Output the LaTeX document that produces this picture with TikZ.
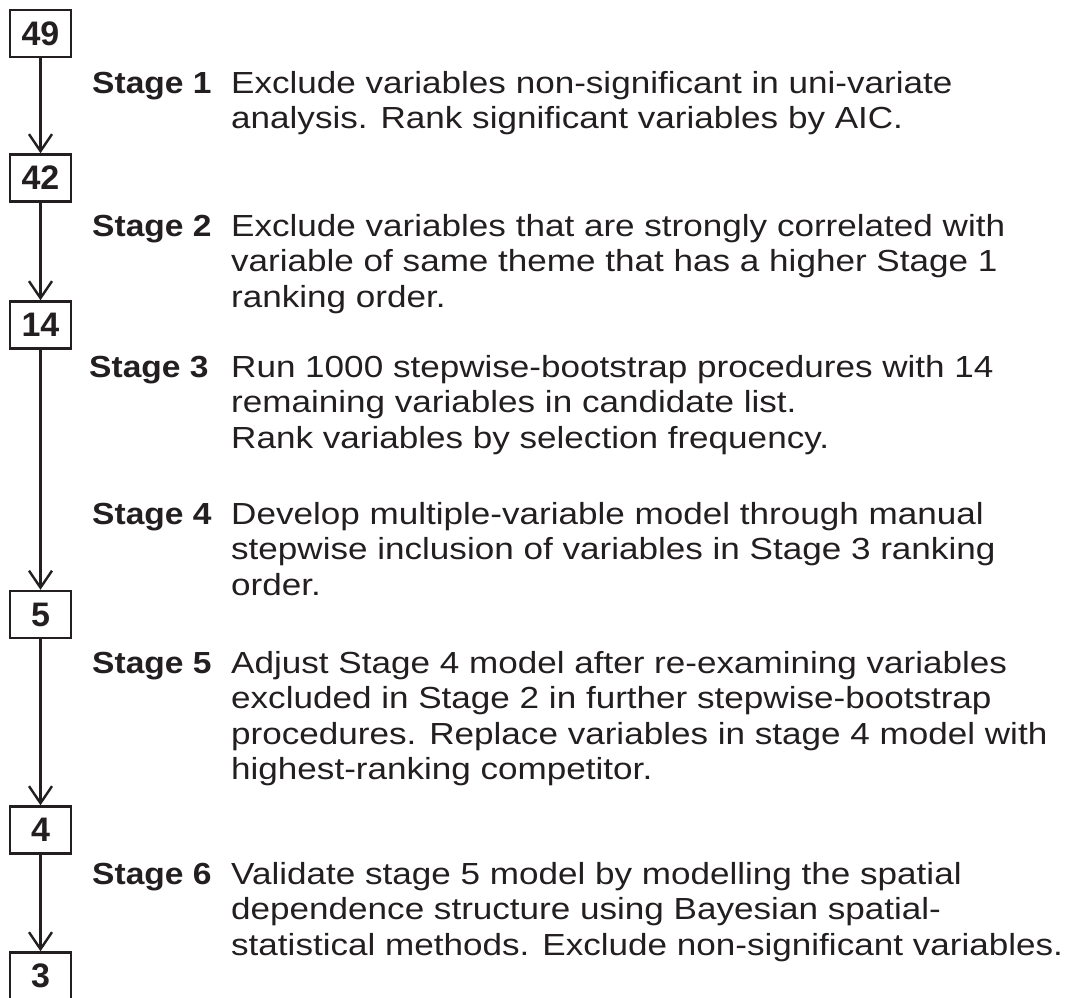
\documentclass[tikz,border=0pt]{standalone}
\usepackage{fontspec}
\setmainfont{Liberation Sans}[FakeStretch=1.15,BoldFeatures={FakeStretch=1.1}]
\newfontfamily\boxfont{Liberation Sans}
\usetikzlibrary{arrows.meta,positioning}
\definecolor{flInk}{RGB}{35,31,32}
\newcommand{\stagelines}[1]{\begin{tabular}[t]{@{}l@{}}#1\end{tabular}}

\begin{document}
\begin{tikzpicture}[x=1pt,y=-1pt,
  numbox/.style={draw=flInk,line width=2.4pt,minimum width=61pt,minimum height=47pt,
    inner sep=0pt,text=flInk,font=\boxfont\fontsize{34}{34}\selectfont\bfseries},
  stagelabel/.style={anchor=base west,inner sep=0pt,text=flInk,
    font=\fontsize{30.5}{35.5}\selectfont\bfseries},
  stagetext/.style={anchor=base west,inner sep=0pt,text=flInk,
    font=\fontsize{30.5}{35.5}\selectfont},
  flow/.style={draw=flInk,line width=2.4pt,-{Straight Barb[length=17pt,width=23pt]}}]
  \useasboundingbox (0,0) rectangle (1068,998);
  \node[numbox] (n49) at (40.5,33.5) {49};
  \node[numbox] (n42) at (40.5,178) {42};
  \node[numbox] (n14) at (40.5,325) {14};
  \node[numbox] (n5) at (40.5,614.5) {5};
  \node[numbox] (n4) at (40.5,830) {4};
  \node[numbox] (n3) at (40.5,976) {3};
  \draw[flow] (n49) -- (n42);
  \draw[flow] (n42) -- (n14);
  \draw[flow] (n14) -- (n5);
  \draw[flow] (n5) -- (n4);
  \draw[flow] (n4) -- (n3);
  \node[stagelabel] (s1) at (92,93) {Stage 1};
  \node[stagetext] (t1) at (231,93) {\stagelines{Exclude variables non-significant in uni-variate\\analysis. Rank significant variables by AIC.}};
  \node[stagelabel] (s2) at (92,236) {Stage 2};
  \node[stagetext] (t2) at (231,236) {\stagelines{Exclude variables that are strongly correlated with\\variable of same theme that has a higher Stage 1\\ranking order.}};
  \node[stagelabel] (s3) at (89,377) {Stage 3};
  \node[stagetext] (t3) at (231,377) {\stagelines{Run 1000 stepwise-bootstrap procedures with 14\\remaining variables in candidate list.\\Rank variables by selection frequency.}};
  \node[stagelabel] (s4) at (92,524) {Stage 4};
  \node[stagetext] (t4) at (231,524) {\stagelines{Develop multiple-variable model through manual\\stepwise inclusion of variables in Stage 3 ranking\\order.}};
  \node[stagelabel] (s5) at (92,673) {Stage 5};
  \node[stagetext] (t5) at (231,673) {\stagelines{Adjust Stage 4 model after re-examining variables\\excluded in Stage 2 in further stepwise-bootstrap\\procedures. Replace variables in stage 4 model with\\highest-ranking competitor.}};
  \node[stagelabel] (s6) at (92,884) {Stage 6};
  \node[stagetext] (t6) at (231,884) {\stagelines{Validate stage 5 model by modelling the spatial\\dependence structure using Bayesian spatial-\\statistical methods. Exclude non-significant variables.}};
\end{tikzpicture}
\end{document}
